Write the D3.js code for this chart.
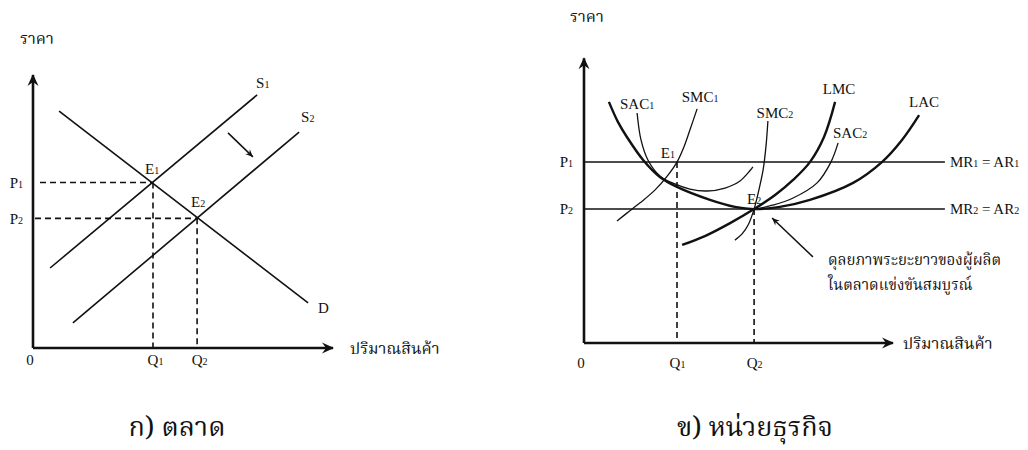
<!DOCTYPE html>
<html><head><meta charset="utf-8">
<script src="https://cdn.jsdelivr.net/npm/d3@7"></script>
<style>
html,body{margin:0;padding:0;background:#fff;}
svg{display:block;}
.lat{font-family:"Liberation Serif","Times New Roman",serif;font-size:15px;fill:#111;}
.thai{font-family:"Noto Serif Thai","Noto Sans Thai","Loma","Garuda","Tlwg Typo","Norasi","DejaVu Sans",sans-serif;fill:#111;}
</style></head><body><svg id="c" width="1028" height="450"></svg>
<script>
// ---------- Left panel (market) data ----------
const leftLineNames = ["S1", "S2", "D"];
const leftLineX = [[5.7, 74.7], [13.3, 88.7], [8.7, 91.7]];
const leftLineY = [[29.3, 92.7], [9.2, 79.1], [86.8, 16.5]];
const leftPrices = [60.6, 47.5];        // P1, P2
const leftQuantities = [40, 54.7];      // Q1, Q2
const leftPriceLabels = ["P1", "P2"];
const leftQtyLabels = ["Q1", "Q2"];
const leftEqLabels = ["E1", "E2"];
const leftShiftX = [65, 73.3];
const leftShiftY = [78.8, 70.0];

// ---------- Right panel (firm) data ----------
const rightPrices = [67.0, 49.6];       // P1, P2
const rightQuantities = [31.0, 56.7];   // Q1, Q2
const rightPriceLabels = ["P1", "P2"];
const rightQtyLabels = ["Q1", "Q2"];
const rightMRLabels = ["MR1 = AR1", "MR2 = AR2"];
const rightEqLabels = ["E1", "E2"];
const rightLineEnd = 120.3;

const lacX = [8.3, 11.3, 14.3, 19.7, 25.3, 31.0, 42.0, 50.3, 56.7, 65.3, 75.3, 89.7, 99.3, 106.0, 111.7];
const lacY = [89.3, 81.9, 76.3, 67.8, 61.5, 57.8, 53.0, 50.4, 49.6, 50.4, 53.0, 59.3, 67.0, 75.2, 84.4];
const lmcX = [32.7, 40.3, 48.7, 56.7, 63.7, 69.7, 75.3, 80.0, 83.7];
const lmcY = [36.3, 39.6, 44.4, 49.6, 54.8, 60.4, 67.0, 76.3, 89.3];
const sac1X = [17.7, 19.0, 21.3, 25.3, 30.3, 35.3, 41.0, 47.0, 52.0, 56.3];
const sac1Y = [85.2, 75.2, 67.8, 61.9, 58.9, 57.0, 56.3, 57.4, 60.0, 65.2];
const smc1X = [37.7, 35.3, 33.3, 31.0, 28.0, 23.7, 18.7, 14.3, 11.0];
const smc1Y = [86.7, 78.9, 72.6, 67.0, 62.2, 56.7, 51.9, 48.1, 45.2];
const smc2X = [61.3, 60.7, 59.7, 58.3, 56.7, 54.7, 52.7, 50.3];
const smc2Y = [82.2, 73.3, 64.1, 56.7, 49.6, 43.7, 40.4, 38.1];
const sac2X = [84.7, 82.3, 77.7, 69.7, 63.0, 56.7, 52.0];
const sac2Y = [74.1, 67.0, 59.3, 53.7, 51.1, 49.6, 50.1];
const noteArrowX = [76.3, 62.7];
const noteArrowY = [31.9, 46.3];
const noteLines = ["ดุลยภาพระยะยาวของผู้ผลิต", "ในตลาดแข่งขันสมบูรณ์"];

const yAxisLabel = "ราคา";
const xAxisLabel = "ปริมาณสินค้า";
const titles = ["ก) ตลาด", "ข) หน่วยธุรกิจ"];

// ---------- drawing ----------
const ink = "#111";
const svg = d3.select("#c");
const defs = svg.append("defs");
defs.append("marker").attr("id", "ah").attr("viewBox", "-12 -6 14 12")
  .attr("refX", 0).attr("refY", 0).attr("markerWidth", 14).attr("markerHeight", 12)
  .attr("markerUnits", "userSpaceOnUse").attr("orient", "auto")
  .append("path").attr("d", "M1,0 L-11,-5.5 L-7,0 L-11,5.5 Z").attr("fill", ink);
defs.append("marker").attr("id", "ah2").attr("viewBox", "-12 -6 14 12")
  .attr("refX", 0).attr("refY", 0).attr("markerWidth", 12).attr("markerHeight", 10)
  .attr("markerUnits", "userSpaceOnUse").attr("orient", "auto")
  .append("path").attr("d", "M0,0 L-9,-4 L-6,0 L-9,4 Z").attr("fill", ink);

function splitSub(s) {
  // digits directly after a letter are drawn as small subscript-style digits
  const parts = [];
  let cur = "", curSub = false;
  for (let i = 0; i < s.length; i++) {
    const c = s[i];
    const isDigit = /[0-9]/.test(c);
    const sub = isDigit && i > 0 && (/[A-Za-z]/.test(s[i - 1]) || (curSub && /[0-9]/.test(s[i - 1])));
    if (cur && sub !== curSub) { parts.push([cur, curSub]); cur = ""; }
    cur += c; curSub = sub;
  }
  if (cur) parts.push([cur, curSub]);
  return parts;
}
function fillParts(t, s) {
  splitSub(s).forEach(([txt, sub]) => {
    const ts = t.append("tspan").text(txt);
    if (sub) ts.attr("font-size", 10);
  });
}
function latText(g, x, y, s, anchor) {
  const t = g.append("text").attr("class", "lat").attr("x", x).attr("y", y)
    .attr("text-anchor", anchor || "start");
  fillParts(t, s);
  return t;
}
function labelsVia(axisG, labels) {
  axisG.selectAll(".tick text").each(function (d, i) {
    const t = d3.select(this); t.text(null).attr("class", "lat").attr("fill", ink);
    fillParts(t, labels[i]);
  });
}

function panelAxes(g, x, y, xMax, yMax) {
  g.append("line").attr("x1", x(0)).attr("y1", y(0)).attr("x2", x(0)).attr("y2", y(yMax))
    .attr("stroke", ink).attr("stroke-width", 2.6).attr("marker-end", "url(#ah)");
  g.append("line").attr("x1", x(0)).attr("y1", y(0)).attr("x2", x(xMax)).attr("y2", y(0))
    .attr("stroke", ink).attr("stroke-width", 2.6).attr("marker-end", "url(#ah)");
}

// ===== Left panel =====
{
  const x = d3.scaleLinear().domain([0, 100]).range([33, 333]);
  const y = d3.scaleLinear().domain([0, 100]).range([348, 75]);
  const g = svg.append("g");

  leftPrices.forEach((p, i) => {
    g.append("line").attr("x1", x(0) + (i === 0 ? 7 : 2)).attr("x2", x(leftQuantities[i]))
      .attr("y1", y(p)).attr("y2", y(p))
      .attr("stroke", ink).attr("stroke-width", 1.6).attr("stroke-dasharray", "6,4");
    g.append("line").attr("x1", x(leftQuantities[i])).attr("x2", x(leftQuantities[i]))
      .attr("y1", y(p)).attr("y2", y(0))
      .attr("stroke", ink).attr("stroke-width", 1.6).attr("stroke-dasharray", "6,4");
  });

  const line = d3.line().x(d => x(d[0])).y(d => y(d[1]));
  leftLineNames.forEach((n, i) => {
    const pts = leftLineX[i].map((v, k) => [v, leftLineY[i][k]]);
    g.append("path").attr("d", line(pts)).attr("fill", "none").attr("stroke", ink).attr("stroke-width", 1.6);
  });
  const endS1 = [x(leftLineX[0][1]), y(leftLineY[0][1])];
  latText(g, endS1[0] - 1, endS1[1] - 7, leftLineNames[0]);
  const endS2 = [x(leftLineX[1][1]), y(leftLineY[1][1])];
  latText(g, endS2[0] + 2, endS2[1] - 10, leftLineNames[1]);
  const endD = [x(leftLineX[2][1]), y(leftLineY[2][1])];
  latText(g, endD[0] + 10, endD[1] + 10, leftLineNames[2]);

  g.append("line").attr("x1", x(leftShiftX[0])).attr("y1", y(leftShiftY[0]))
    .attr("x2", x(leftShiftX[1])).attr("y2", y(leftShiftY[1]))
    .attr("stroke", ink).attr("stroke-width", 1.5).attr("marker-end", "url(#ah2)");

  latText(g, x(leftQuantities[0]) - 8, y(leftPrices[0]) - 9, leftEqLabels[0]);
  latText(g, x(leftQuantities[1]) - 6, y(leftPrices[1]) - 11, leftEqLabels[1]);

  panelAxes(g, x, y, 100, 100);

  const ax = g.append("g").attr("transform", `translate(0,${y(0)})`)
    .call(d3.axisBottom(x).tickValues([0].concat(leftQuantities)).tickSize(0).tickPadding(6));
  ax.select(".domain").remove();
  labelsVia(ax, ["0"].concat(leftQtyLabels));
  ax.selectAll(".tick").filter((d) => d === 0).attr("transform", `translate(${x(0) - 3},0)`);
  ax.selectAll(".tick").filter((d) => d !== 0).select("text").attr("dx", 2);
  const ay = g.append("g").attr("transform", `translate(${x(0)},0)`)
    .call(d3.axisLeft(y).tickValues(leftPrices).tickSize(0).tickPadding(10));
  ay.select(".domain").remove();
  labelsVia(ay, leftPriceLabels);
  ay.selectAll(".tick text").attr("text-anchor", "end").attr("dy", "0.32em");

  g.append("text").attr("class", "thai").attr("x", 20).attr("y", 44).attr("font-size", 16).text(yAxisLabel);
  g.append("text").attr("class", "thai").attr("x", x(100) + 17).attr("y", y(0) + 6).attr("font-size", 16).text(xAxisLabel);
  g.append("text").attr("class", "thai").attr("x", 177).attr("y", 436).attr("text-anchor", "middle")
    .attr("font-size", 27).text(titles[0]);
}

// ===== Right panel =====
{
  const x = d3.scaleLinear().domain([0, 100]).range([584, 884]);
  const y = d3.scaleLinear().domain([0, 100]).range([343, 73]);
  const g = svg.append("g");
  const zip = (a, b) => a.map((v, i) => [v, b[i]]);
  const curve = d3.line().x(d => x(d[0])).y(d => y(d[1])).curve(d3.curveCatmullRom.alpha(0.5));

  rightQuantities.forEach((q, i) => {
    g.append("line").attr("x1", x(q)).attr("x2", x(q)).attr("y1", y(rightPrices[i])).attr("y2", y(0))
      .attr("stroke", ink).attr("stroke-width", 1.6).attr("stroke-dasharray", "6,4");
  });
  rightPrices.forEach((p, i) => {
    g.append("line").attr("x1", x(0)).attr("x2", x(rightLineEnd)).attr("y1", y(p)).attr("y2", y(p))
      .attr("stroke", ink).attr("stroke-width", 1.5);
    latText(g, x(rightLineEnd) + 5, y(p) + 5, rightMRLabels[i]);
  });

  [[sac1X, sac1Y], [smc1X, smc1Y], [smc2X, smc2Y], [sac2X, sac2Y]].forEach(([cx, cy]) => {
    g.append("path").attr("d", curve(zip(cx, cy))).attr("fill", "none").attr("stroke", ink).attr("stroke-width", 1.3);
  });
  [[lacX, lacY], [lmcX, lmcY]].forEach(([cx, cy]) => {
    g.append("path").attr("d", curve(zip(cx, cy))).attr("fill", "none").attr("stroke", ink).attr("stroke-width", 2.4);
  });

  latText(g, x(sac1X[0]), y(sac1Y[0]) - 4, "SAC1", "middle");
  latText(g, x(smc1X[0]) + 3, y(smc1Y[0]) - 7, "SMC1", "middle");
  latText(g, x(smc2X[0]) + 7, y(smc2Y[0]) - 3, "SMC2", "middle");
  latText(g, x(lmcX[lmcX.length - 1]) + 4, y(lmcY[lmcY.length - 1]) - 8, "LMC", "middle");
  latText(g, x(lacX[lacX.length - 1]) + 5, y(lacY[lacY.length - 1]) - 8, "LAC", "middle");
  latText(g, x(sac2X[0]) + 12, y(sac2Y[0]) - 5, "SAC2", "middle");
  latText(g, x(rightQuantities[0]) - 2, y(rightPrices[0]) - 4, rightEqLabels[0], "end");
  latText(g, x(rightQuantities[1]) - 7, y(rightPrices[1]) - 5, rightEqLabels[1]);

  g.append("line").attr("x1", x(noteArrowX[0])).attr("y1", y(noteArrowY[0]))
    .attr("x2", x(noteArrowX[1])).attr("y2", y(noteArrowY[1]))
    .attr("stroke", ink).attr("stroke-width", 1.5).attr("marker-end", "url(#ah2)");
  noteLines.forEach((s, i) => {
    g.append("text").attr("class", "thai").attr("x", x(noteArrowX[0]) + 15).attr("y", y(noteArrowY[0]) + 8 + i * 25)
      .attr("font-size", 15).text(s);
  });

  panelAxes(g, x, y, 103, 105.5);

  const ax = g.append("g").attr("transform", `translate(0,${y(0)})`)
    .call(d3.axisBottom(x).tickValues([0].concat(rightQuantities)).tickSize(0).tickPadding(14));
  ax.select(".domain").remove();
  labelsVia(ax, ["0"].concat(rightQtyLabels));
  ax.selectAll(".tick").filter((d) => d === 0).attr("transform", `translate(${x(0) - 3},0)`);
  const ay = g.append("g").attr("transform", `translate(${x(0)},0)`)
    .call(d3.axisLeft(y).tickValues(rightPrices).tickSize(0).tickPadding(11));
  ay.select(".domain").remove();
  labelsVia(ay, rightPriceLabels);
  ay.selectAll(".tick text").attr("text-anchor", "end").attr("dy", "0.32em");

  g.append("text").attr("class", "thai").attr("x", 570).attr("y", 22).attr("font-size", 16).text(yAxisLabel);
  g.append("text").attr("class", "thai").attr("x", x(103) + 10).attr("y", y(0) + 6).attr("font-size", 16).text(xAxisLabel);
  g.append("text").attr("class", "thai").attr("x", 755).attr("y", 436).attr("text-anchor", "middle")
    .attr("font-size", 27).text(titles[1]);
}
</script></body></html>
